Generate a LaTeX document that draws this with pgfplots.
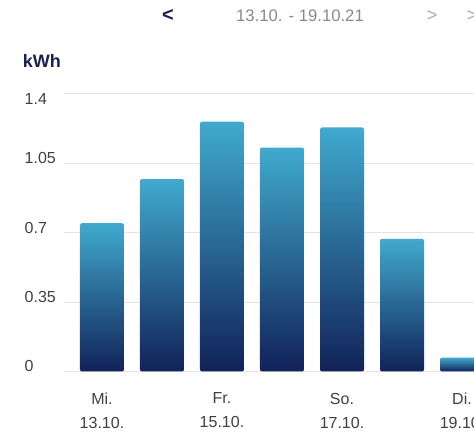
\documentclass[border=0pt]{standalone}
\usepackage{pgfplots}
\pgfplotsset{compat=1.18}
\usepackage{fontspec}
\setmainfont{Liberation Sans}

\definecolor{bartop}{RGB}{64,170,206}
\definecolor{barbot}{RGB}{17,34,88}
\definecolor{navy}{RGB}{26,32,80}
\definecolor{gridc}{RGB}{228,228,228}
\definecolor{labc}{RGB}{64,64,64}
\definecolor{headc}{RGB}{136,136,136}

\begin{document}
\begin{tikzpicture}
\useasboundingbox (0pt,0pt) rectangle (355.5pt,324pt);
\clip (0pt,0pt) rectangle (355.5pt,324pt);

% header line (1px = 0.75pt)
\node[text=navy,font=\bfseries\fontsize{15}{15}\selectfont] at (126pt,312pt) {<};
\node[text=headc,font=\fontsize{12.5}{14}\selectfont] at (225pt,312pt) {13.10. - 19.10.21};
\node[text=headc!70,font=\fontsize{14}{14}\selectfont] at (324pt,312pt) {>};
\node[text=headc!70,font=\fontsize{14}{14}\selectfont] at (354pt,312pt) {>};
\node[text=navy,font=\bfseries\fontsize{13.5}{14}\selectfont,anchor=west,inner sep=0pt] at (17pt,278pt) {kWh};

\begin{axis}[
    at={(48pt,45.4pt)}, anchor=south west,
    scale only axis,
    width=307.5pt, height=208.1pt,
    xmin=-0.633, xmax=6.2,
    ymin=0, ymax=1.4,
    no markers,
    axis line style={draw=none},
    tick style={draw=none},
    ytick={0,0.35,0.7,1.05},
    yticklabels={0,0.35,0.7,1.05},
    extra y ticks={1.4},
    extra y tick labels={1.4},
    extra y tick style={grid=major, yticklabel style={yshift=-7.5pt}},
    ymajorgrids,
    grid style={gridc, line width=0.75pt},
    yticklabel style={anchor=west, xshift=-33pt, yshift=3.75pt, text=labc,
        font=\fontsize{12}{13}\selectfont},
    /pgf/number format/assume math mode=true,
    xtick={0,2,4,6},
    xticklabels={{Mi.\\13.10.},{Fr.\\15.10.},{So.\\17.10.},{Di.\\19.10.}},
    xticklabel style={align=center, text=labc, yshift=-12.5pt,
        font=\fontsize{12}{18}\selectfont},
    daybar/.style={ybar, bar width=33pt, bar shift=0pt, draw=none,
        rounded corners=1.5pt, top color=bartop, bottom color=barbot},
]
% one plot per day so that every bar gets its own gradient
\addplot[daybar] coordinates {(0,0.748)};
\addplot[daybar] coordinates {(1,0.971)};
\addplot[daybar] coordinates {(2,1.260)};
\addplot[daybar] coordinates {(3,1.130)};
\addplot[daybar] coordinates {(4,1.231)};
\addplot[daybar] coordinates {(5,0.669)};
\addplot[daybar] coordinates {(6,0.070)};
\end{axis}
\end{tikzpicture}
\end{document}
